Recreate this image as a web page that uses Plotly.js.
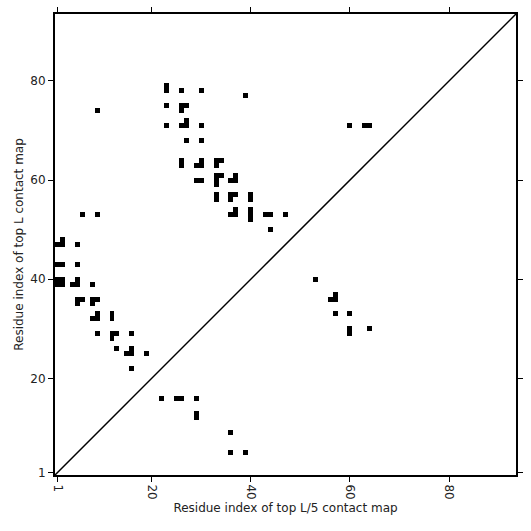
<!DOCTYPE html>
<html>
<head>
<meta charset="utf-8">
<script src="https://cdn.plot.ly/plotly-3.0.1.min.js"></script>
<style>html,body{margin:0;padding:0;background:#fff;}#chart{width:531px;height:531px;}</style>
</head>
<body>
<div id="chart"></div>
<script>
// Sequence length (matrix size)
const seqLength = 93;

// Contact cells (residue i on x, residue j on y)
const contactX = [
  23,23,26,30,39,23,26,27,26,23,26,27,27,30,27,30,
  26,26,30,30,29,33,34,33,29,30,33,34,33,33,37,37,36,
  33,33,36,37,36,40,40,37,37,36,40,40,40,43,44,47,44,
  9,60,63,64,
  6,9,2,2,1,5,1,2,5,1,2,1,2,5,5,4,8,
  5,6,5,8,9,8,9,9,8,12,12,9,12,13,12,16,13,16,16,15,19,16,
  22,25,26,29,29,29,36,36,39,
  53,57,57,56,57,60,60,60,64
];
const contactY = [
  79,78,78,78,77,75,75,75,74,71,71,71,72,71,68,68,
  64,63,64,63,63,64,64,63,60,60,61,61,60,59,61,60,60,
  57,56,57,57,56,57,56,54,53,53,54,53,52,53,53,53,50,
  74,71,71,71,
  53,53,48,47,47,47,43,43,43,40,40,39,39,40,39,39,39,
  36,36,35,36,36,35,33,32,32,33,32,29,29,29,28,29,26,26,25,25,25,22,
  16,16,16,16,13,12,9,5,5,
  40,37,36,36,33,33,30,29,30
];

// Tick labels
const tickValues = [1, 20, 40, 60, 80];
const tickText = ['1', '20', '40', '60', '80'];
const axisRange = [0.5, seqLength + 0.5];

// Build contact matrix
const idx = [];
for (let i = 1; i <= seqLength; i++) idx.push(i);
const z = [];
for (let j = 0; j < seqLength; j++) {
  z.push(new Array(seqLength).fill(null));
}
for (let k = 0; k < contactX.length; k++) {
  z[contactY[k] - 1][contactX[k] - 1] = 1;
}

const font = {family: 'DejaVu Sans', size: 12, color: '#222'};

const traces = [
  {
    type: 'heatmap', x: idx, y: idx, z: z,
    colorscale: [[0, '#ffffff'], [1, '#000000']],
    zmin: 0, zmax: 1, showscale: false, hoverinfo: 'skip'
  },
  {
    type: 'scatter', mode: 'lines',
    x: axisRange, y: axisRange,
    line: {color: '#000', width: 1.5},
    hoverinfo: 'skip'
  }
];

const axisCommon = {
  range: axisRange,
  tickvals: tickValues, ticktext: tickText,
  ticks: 'outside', ticklen: 5, tickwidth: 1, tickcolor: '#000',
  showline: true, linecolor: '#000', linewidth: 2, mirror: 'ticks',
  showgrid: false, zeroline: false,
  tickfont: font
};

const layout = {
  width: 531, height: 531,
  margin: {l: 55, r: 15, t: 14, b: 56},
  paper_bgcolor: '#fff', plot_bgcolor: '#fff',
  showlegend: false,
  font: font,
  xaxis: Object.assign({}, axisCommon, {
    tickangle: 90,
    title: {text: 'Residue index of top L/5 contact map', font: font, standoff: 5}
  }),
  yaxis: Object.assign({}, axisCommon, {
    title: {text: 'Residue index of top L contact map', font: font, standoff: 4}
  })
};

Plotly.newPlot('chart', traces, layout, {displayModeBar: false, staticPlot: true});
</script>
</body>
</html>
